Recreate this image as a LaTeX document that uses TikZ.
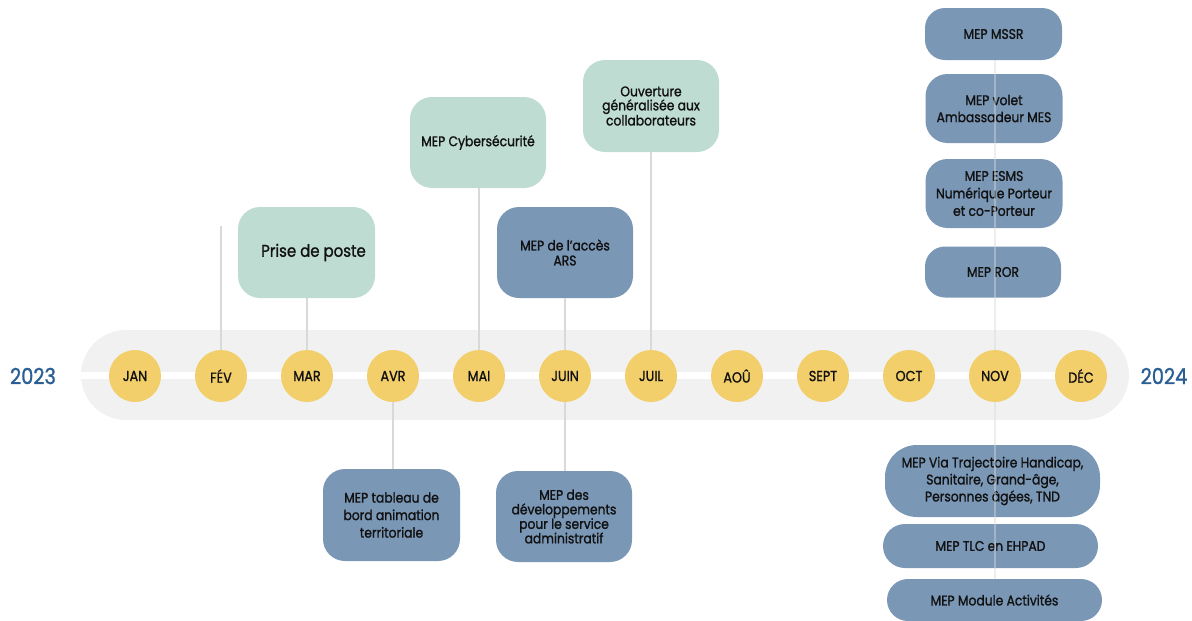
\documentclass[tikz,border=0pt]{standalone}
\usepackage{fontspec}
\setmainfont{Poppins}[FakeStretch=0.88, FakeBold=1.2]
\definecolor{pillgray}{HTML}{F1F1F1}
\definecolor{mint}{HTML}{BEDCD2}
\definecolor{steel}{HTML}{7A97B6}
\definecolor{gold}{HTML}{F2CF6B}
\definecolor{yearblue}{HTML}{2B5F93}
\definecolor{conn}{HTML}{D9D9D6}
\definecolor{ink}{HTML}{111111}
\tikzset{
  boxbase/.style={rectangle, rounded corners=22pt, inner sep=0pt, align=center,
    text=ink, font=\fontsize{14}{15}\selectfont},
  gbox/.style={boxbase, fill=mint},
  bbox/.style={boxbase, fill=steel},
  month/.style={circle, fill=gold, minimum size=52pt, inner sep=0pt, text=ink,
    font=\fontsize{14.5}{15}\selectfont},
  year/.style={text=yearblue, font=\fontsize{22}{26}\selectfont},
  link/.style={draw=conn, line width=1.5pt},
  overlink/.style={draw=conn, line width=1.5pt, opacity=0.45},
}
\begin{document}
\begin{tikzpicture}[x=1pt,y=-1pt]
\useasboundingbox (0,0) rectangle (1192,621);
% band
\fill[pillgray, rounded corners=45pt] (81,330) rectangle (1129,420);
\fill[white] (81,372) rectangle (1081,379);
% years
\node[year] (y23) at (33,376) {2023};
\node[year] (y24) at (1164,376) {2024};
% months
\node[month] (jan) at (135,376) {JAN};
\node[month] (fev) at (221,376) {FÉV};
\node[month] (mar) at (307,376) {MAR};
\node[month] (avr) at (393,376) {AVR};
\node[month] (mai) at (479,376) {MAI};
\node[month] (juin) at (565,376) {JUIN};
\node[month] (juil) at (651,376) {JUIL};
\node[month] (aou) at (737,376) {AOÛ};
\node[month] (sept) at (823,376) {SEPT};
\node[month] (oct) at (909,376) {OCT};
\node[month] (nov) at (995,376) {NOV};
\node[month] (dec) at (1081,376) {DÉC};
% upper boxes
\node[gbox, minimum width=137pt, minimum height=91pt, font=\fontsize{17}{18}\selectfont] (prise) at (306.5,252.5) {\hspace*{14pt}Prise de poste};
\node[gbox, minimum width=136pt, minimum height=91pt] (cyber) at (478,142.5) {MEP Cybersécurité};
\node[gbox, minimum width=136pt, minimum height=92pt, font=\fontsize{14}{14}\selectfont] (ouv) at (651,106) {Ouverture\\généralisée aux\\collaborateurs};
\node[bbox, minimum width=136pt, minimum height=91pt, font=\fontsize{14}{15}\selectfont] (ars) at (565,252.5) {MEP de l'accès\\ARS};
% lower boxes
\node[bbox, minimum width=137pt, minimum height=92pt, font=\fontsize{14}{17.5}\selectfont] (tab) at (391.5,515) {MEP tableau de\\bord animation\\territoriale};
\node[bbox, minimum width=136pt, minimum height=91pt, font=\fontsize{14}{14.5}\selectfont] (dev) at (564,516.5) {MEP des\\développements\\pour le service\\administratif};
% NOV upper stack
\node[bbox, rounded corners=20pt, minimum width=137pt, minimum height=52pt] (mssr) at (993.5,34) {MEP MSSR};
\node[bbox, minimum width=137pt, minimum height=69pt, font=\fontsize{14}{17}\selectfont] (amb) at (994,108.5) {MEP volet\\Ambassadeur MES};
\node[bbox, minimum width=137pt, minimum height=69pt, font=\fontsize{14}{17.5}\selectfont] (esms) at (994,193.5) {MEP ESMS\\Numérique Porteur\\et co-Porteur};
\node[bbox, rounded corners=20pt, minimum width=136pt, minimum height=51pt] (ror) at (993,272) {MEP ROR};
% NOV lower stack
\node[bbox, rounded corners=32pt, minimum width=215pt, minimum height=72pt, font=\fontsize{14}{17}\selectfont] (via) at (992.5,481) {MEP Via Trajectoire Handicap,\\Sanitaire, Grand-âge,\\Personnes âgées, TND};
\node[bbox, rounded corners=22pt, minimum width=215pt, minimum height=44pt] (tlc) at (990.5,546) {MEP TLC en EHPAD};
\node[bbox, rounded corners=21pt, minimum width=215pt, minimum height=42pt] (mod) at (994.5,600) {MEP Module Activités};
% connectors
\coordinate (fevtop) at (221,226);
\draw[link] (fevtop) -- (fev.north);
\draw[link] (prise.south -| mar.north) -- (mar.north);
\draw[link] (cyber.south -| mai.north) -- (mai.north);
\draw[link] (ars.south -| juin.north) -- (juin.north);
\draw[link] (ouv.south -| juil.north) -- (juil.north);
\draw[link] (avr.south) -- (avr.south |- tab.north);
\draw[link] (juin.south) -- (juin.south |- dev.north);
\draw[overlink] (mssr.south -| nov.north) -- (nov.north);
\draw[overlink] (nov.south) -- (nov.south |- mod.north);
\end{tikzpicture}
\end{document}
